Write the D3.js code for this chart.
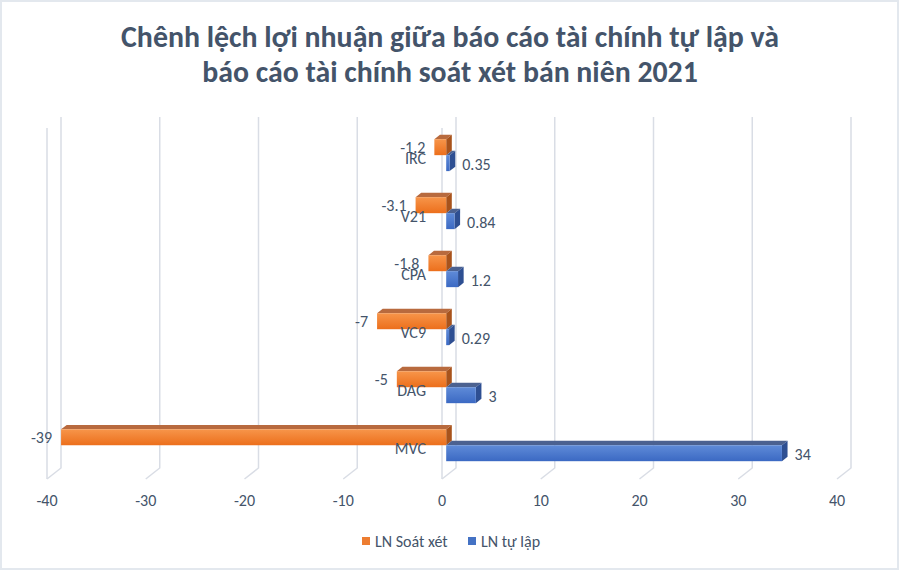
<!DOCTYPE html>
<html>
<head>
<meta charset="utf-8">
<script src="https://cdn.jsdelivr.net/npm/d3@7"></script>
<style>
  body { margin: 0; background: #fff; }
  text { font-family: Carlito, Calibri, Lato, sans-serif; }
</style>
</head>
<body>
<script>
// data
var categories = ["IRC", "V21", "CPA", "VC9", "DAG", "MVC"];
var soatXet = [-1.2, -3.1, -1.8, -7, -5, -39];   // LN Soát xét
var tuLap = [0.35, 0.84, 1.2, 0.29, 3, 34];      // LN tự lập
var tickValues = [-40, -30, -20, -10, 0, 10, 20, 30, 40];
var seriesNames = ["LN Soát xét", "LN tự lập"];
var titleLines = ["Chênh lệch lợi nhuận giữa báo cáo tài chính tự lập và",
                  "báo cáo tài chính soát xét bán niên 2021"];

var W = 900, H = 572;
var textColor = "#44546a";
var gridColor = "#d9dde5";
var fs = 16;

// 3D-ish depth offset: back plane -> front plane
var depthX = -14, depthY = 11;

var svg = d3.select("body").append("svg")
  .attr("width", W).attr("height", H);

svg.append("rect")
  .attr("x", 1).attr("y", 1).attr("width", W - 3).attr("height", 568)
  .attr("fill", "#fff").attr("stroke", "#e3e8ee").attr("stroke-width", 2);

// scales on the back wall
var x = d3.scaleLinear().domain([-40, 40]).range([61, 851]);
var y = d3.scaleBand().domain(categories).range([117, 468])
  .paddingInner(0.45).paddingOuter(0.25);

function px(v, d) { return x(v) + depthX * d; }
function py(yy, d) { return yy + depthY * d; }

// title
var title = svg.append("g");
titleLines.forEach(function(t, i) {
  var tx = title.append("text")
    .attr("x", 450).attr("y", 47 + i * 35)
    .attr("text-anchor", "middle")
    .attr("font-weight", "bold")
    .attr("font-size", 26)
    .attr("fill", textColor)
    .text(t);
  var target = i == 0 ? 658 : 496;
  var w = tx.node().getComputedTextLength();
  tx.attr("font-size", 26 * target / w);
});

// gridlines: back wall verticals + floor diagonals
var grid = svg.append("g");
tickValues.forEach(function(v) {
  grid.append("path")
    .attr("d", "M" + x(v) + ",117 L" + x(v) + ",468 L" + px(v, 1) + "," + py(468, 1))
    .attr("fill", "none").attr("stroke", gridColor).attr("stroke-width", 1.5);
});
// left wall edge and category axis at 0 (front)
grid.append("line")
  .attr("x1", px(-40, 1)).attr("x2", px(-40, 1))
  .attr("y1", py(117, 1)).attr("y2", py(468, 1))
  .attr("stroke", gridColor).attr("stroke-width", 1.5);
grid.append("line")
  .attr("x1", px(0, 1)).attr("x2", px(0, 1))
  .attr("y1", py(117, 1)).attr("y2", py(468, 1))
  .attr("stroke", gridColor).attr("stroke-width", 1.5);

// x tick labels (front)
svg.append("g").selectAll("text")
  .data(tickValues).enter().append("text")
  .attr("x", function(d) { return px(d, 1); })
  .attr("y", 500).attr("dy", "0.35em")
  .attr("text-anchor", "middle")
  .attr("font-size", fs)
  .attr("fill", textColor)
  .text(function(d) { return d; });

// gradients
var defs = svg.append("defs");
function grad(id, c1, c2) {
  var g = defs.append("linearGradient").attr("id", id)
    .attr("x1", 0).attr("y1", 0).attr("x2", 0).attr("y2", 1);
  g.append("stop").attr("offset", "0%").attr("stop-color", c1);
  g.append("stop").attr("offset", "100%").attr("stop-color", c2);
}
grad("gOrange", "#f7954a", "#ec6f1c");
grad("gBlue", "#5f8bd8", "#3b69c3");

var series = [
  { name: seriesNames[0], values: soatXet, front: "url(#gOrange)", top: "#b86a3e", side: "#a8531c", legend: "#ed7d31" },
  { name: seriesNames[1], values: tuLap, front: "url(#gBlue)", top: "#4b6190", side: "#2e4f92", legend: "#4472c4" }
];

var barH = y.bandwidth() / 2;
var dF = 0.7, dB = 0.3; // bar depth span (from back)

var bars = svg.append("g");
categories.forEach(function(c, i) {
  series.forEach(function(s, k) {
    var v = s.values[i];
    var y0 = y(c) + k * barH, y1 = y0 + barH;
    var lo = Math.min(0, v), hi = Math.max(0, v);
    var g = bars.append("g");
    // top face
    g.append("path")
      .attr("d", "M" + px(lo, dF) + "," + py(y0, dF) +
                 "L" + px(hi, dF) + "," + py(y0, dF) +
                 "L" + px(hi, dB) + "," + py(y0, dB) +
                 "L" + px(lo, dB) + "," + py(y0, dB) + "Z")
      .attr("fill", s.top);
    // right side face
    g.append("path")
      .attr("d", "M" + px(hi, dF) + "," + py(y0, dF) +
                 "L" + px(hi, dB) + "," + py(y0, dB) +
                 "L" + px(hi, dB) + "," + py(y1, dB) +
                 "L" + px(hi, dF) + "," + py(y1, dF) + "Z")
      .attr("fill", s.side);
    // front face
    g.append("rect")
      .attr("x", px(lo, dF)).attr("y", py(y0, dF))
      .attr("width", px(hi, dF) - px(lo, dF)).attr("height", barH)
      .attr("fill", s.front);
    // value label
    var ly = py(y0, dF) + barH / 2;
    if (v < 0) {
      g.append("text")
        .attr("x", px(lo, dF) - 9).attr("y", ly).attr("dy", "0.35em")
        .attr("text-anchor", "end")
        .attr("font-size", fs).attr("fill", textColor)
        .text(v);
    } else {
      g.append("text")
        .attr("x", px(hi, dB) + 7).attr("y", ly + 1).attr("dy", "0.35em")
        .attr("text-anchor", "start")
        .attr("font-size", fs).attr("fill", textColor)
        .text(v);
    }
  });
});

// category labels (front plane, right aligned at the 0 axis)
svg.append("g").selectAll("text")
  .data(categories).enter().append("text")
  .attr("x", px(0, 1) - 16)
  .attr("y", function(d) { return py(y(d) + y.bandwidth() / 2, 1); })
  .attr("dy", "0.35em")
  .attr("text-anchor", "end")
  .attr("font-size", fs)
  .attr("fill", textColor)
  .text(function(d) { return d; });

// legend
var legend = svg.append("g");
var lx = [362, 468];
series.forEach(function(s, k) {
  legend.append("rect")
    .attr("x", lx[k]).attr("y", 537).attr("width", 8).attr("height", 8)
    .attr("fill", s.legend);
  legend.append("text")
    .attr("x", lx[k] + 13).attr("y", 541).attr("dy", "0.35em")
    .attr("font-size", fs).attr("fill", textColor)
    .text(s.name);
});
</script>
</body>
</html>
